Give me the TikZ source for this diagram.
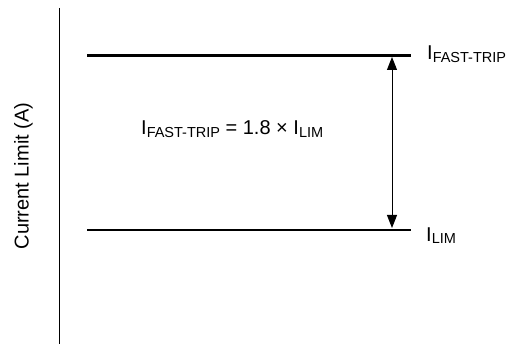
\documentclass[tikz,border=0pt]{standalone}
\usepackage{fontspec}
\setmainfont{Liberation Sans}
\usetikzlibrary{arrows.meta}

% lowered, smaller subscript
\newcommand\lowsub[1]{\raisebox{-2.5pt}{\fontsize{14.5}{16}\selectfont #1}}

\begin{document}
\begin{tikzpicture}[
  x=1pt, y=-1pt,
  level/.style={line width=2.6pt},
  lbl/.style={anchor=base west, inner sep=0pt, font=\fontsize{20}{22}\selectfont}
]
  \useasboundingbox (0,0) rectangle (507,345);

  % axis
  \coordinate (ytop) at (59,8);
  \coordinate (ybot) at (59,344);
  \draw[line width=1pt] (ytop) -- (ybot);
  \node[rotate=90, anchor=base, inner sep=0pt, font=\fontsize{20}{22}\selectfont] (ylabel) at (28.5,176) {Current Limit (A)};

  % levels
  \coordinate (ftL) at (87,55.5);
  \coordinate (ftR) at (411,55.5);
  \coordinate (limL) at (87,230);
  \coordinate (limR) at (411,230);
  \draw[level] (ftL) -- (ftR);
  \draw[level] (limL) -- (limR);

  \node[lbl] (ftlabel) at (427,60) {I\lowsub{FAST-TRIP}};
  \node[lbl] (limlabel) at (426,241) {I\lowsub{LIM}};

  % ratio
  \coordinate (arrtop) at (392,57);
  \coordinate (arrbot) at (392,228);
  \draw[line width=1pt, {Triangle[length=13pt,width=10pt]}-{Triangle[length=13pt,width=10pt]}] (arrtop) -- (arrbot);
  \node[lbl] (formula) at (141,135) {I\lowsub{FAST-TRIP} = 1.8 × I\lowsub{LIM}};
\end{tikzpicture}
\end{document}
